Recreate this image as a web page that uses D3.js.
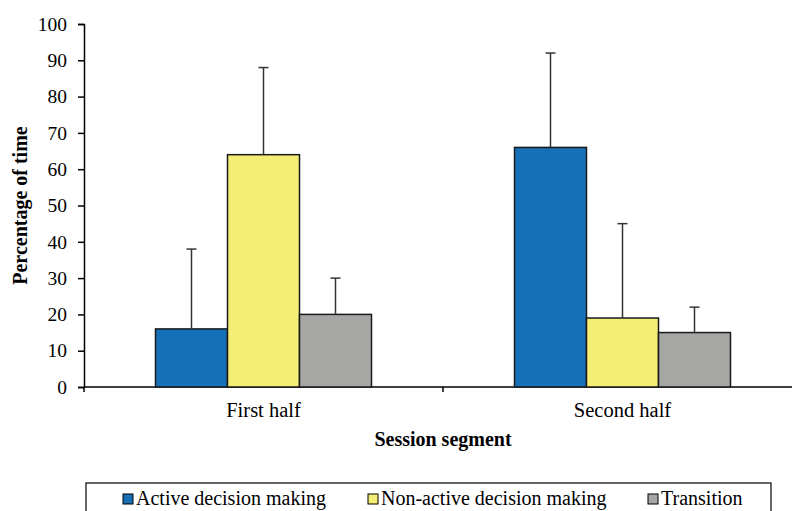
<!doctype html>
<html lang="en">
<head>
<meta charset="UTF-8">
<title>Percentage of time by session segment</title>
<style>
  body { margin: 0; background: #fff; }
  svg { display: block; }
  svg text { font-family: "Liberation Serif", "Times New Roman", serif; fill: #000; }
</style>
</head>
<body>
<div class="chart"></div>
<script src="https://d3js.org/d3.v7.min.js"></script>
<script>
  // data
  const segments = ['First half', 'Second half']
  const series = ['Active decision making', 'Non-active decision making', 'Transition']
  const activeValues = [16, 66]
  const nonActiveValues = [64, 19]
  const transitionValues = [20, 15]
  const activeErrors = [22, 26]
  const nonActiveErrors = [24, 26]
  const transitionErrors = [10, 7]
  const yTicks = [0, 10, 20, 30, 40, 50, 60, 70, 80, 90, 100]

  const colors = ['#1570b8', '#f5ee76', '#a6a6a5']
  const values = [activeValues, nonActiveValues, transitionValues]
  const errors = [activeErrors, nonActiveErrors, transitionErrors]

  const rows = []
  segments.forEach((seg, i) => {
    series.forEach((s, j) => {
      rows.push({ seg, s, j, value: values[j][i], err: errors[j][i] })
    })
  })

  const width = 792
  const height = 511
  const plotLeft = 84
  const plotTop = 24
  const plotBottom = 387

  const svg = d3.select('.chart').append('svg')
    .attr('width', width)
    .attr('height', height)

  const x = d3.scaleBand().domain(segments).range([plotLeft, 802])
  const xInner = d3.scaleBand().domain(series).range([0, x.bandwidth()]).paddingOuter(0.993)
  const y = d3.scaleLinear().domain([0, 100]).range([plotBottom, plotTop])

  // y axis
  const yAxis = svg.append('g')
    .attr('transform', `translate(${plotLeft},0)`)
    .call(d3.axisLeft(y).tickValues(yTicks).tickSize(6).tickPadding(11))
  yAxis.attr('font-family', null).attr('font-size', 19.5)
  yAxis.select('.domain').attr('stroke', '#000').attr('stroke-width', 1.5)
  yAxis.selectAll('.tick line').attr('stroke', '#000').attr('stroke-width', 1.5)
  yAxis.selectAll('.tick text').attr('fill', '#000')

  // x axis: ticks at the band edges
  const xAxisG = svg.append('g').attr('transform', `translate(0,${plotBottom})`)
  xAxisG.append('line')
    .attr('x1', plotLeft).attr('x2', x.range()[1])
    .attr('stroke', '#000').attr('stroke-width', 1.5)
  const edges = segments.map(d => x(d)).concat([x.range()[1]])
  xAxisG.selectAll('.edge').data(edges).enter().append('line')
    .attr('x1', d => d).attr('x2', d => d)
    .attr('y1', 0).attr('y2', 5)
    .attr('stroke', '#000').attr('stroke-width', 1.5)
  xAxisG.selectAll('.cat').data(segments).enter().append('text')
    .attr('x', d => x(d) + x.bandwidth() / 2)
    .attr('y', 30)
    .attr('text-anchor', 'middle')
    .attr('font-size', 20.5)
    .text(d => d)

  // bars
  svg.append('g').selectAll('rect').data(rows).enter().append('rect')
    .attr('x', d => x(d.seg) + xInner(d.s))
    .attr('y', d => y(d.value))
    .attr('width', xInner.bandwidth())
    .attr('height', d => y(0) - y(d.value))
    .attr('fill', d => colors[d.j])
    .attr('stroke', '#1a1a1a')
    .attr('stroke-width', 1.5)

  // error bars (upper only)
  const eb = svg.append('g').attr('stroke', '#333').attr('stroke-width', 1.5)
  rows.forEach(d => {
    const cx = x(d.seg) + xInner(d.s) + xInner.bandwidth() / 2
    eb.append('line').attr('x1', cx).attr('x2', cx)
      .attr('y1', y(d.value)).attr('y2', y(d.value + d.err))
    eb.append('line').attr('x1', cx - 5).attr('x2', cx + 5)
      .attr('y1', y(d.value + d.err)).attr('y2', y(d.value + d.err))
  })

  // axis titles
  svg.append('text')
    .attr('transform', `translate(27,${(plotTop + plotBottom) / 2}) rotate(-90)`)
    .attr('text-anchor', 'middle')
    .attr('font-size', 20)
    .attr('font-weight', 'bold')
    .text('Percentage of time')
  svg.append('text')
    .attr('x', 443).attr('y', 446)
    .attr('text-anchor', 'middle')
    .attr('font-size', 20)
    .attr('font-weight', 'bold')
    .text('Session segment')

  // legend
  const legend = svg.append('g')
  legend.append('rect')
    .attr('x', 86).attr('y', 483)
    .attr('width', 685).attr('height', 40)
    .attr('fill', 'none').attr('stroke', '#000').attr('stroke-width', 1.2)
  const legendX = [123, 368, 648]
  series.forEach((s, j) => {
    legend.append('rect')
      .attr('x', legendX[j]).attr('y', 494)
      .attr('width', 10).attr('height', 10)
      .attr('fill', colors[j]).attr('stroke', '#000').attr('stroke-width', 1)
    legend.append('text')
      .attr('x', legendX[j] + 13).attr('y', 505)
      .attr('font-size', 20)
      .text(s)
  })
</script>
</body>
</html>
